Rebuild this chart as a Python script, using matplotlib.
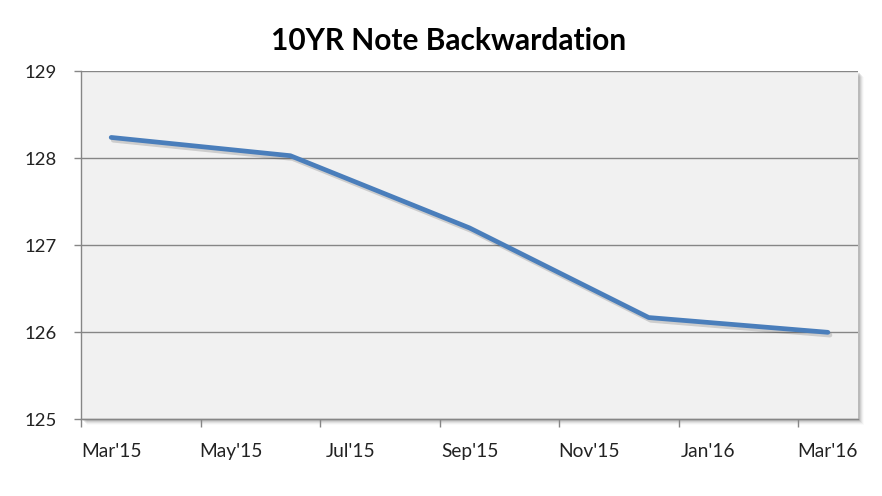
import matplotlib.pyplot as plt
import matplotlib.patheffects as pe
from matplotlib.patches import Rectangle
from matplotlib.ticker import FixedLocator, NullFormatter

plt.rcParams['font.family'] = ['Lato', 'DejaVu Sans']

# data: quarterly settle values, x = month index from Mar'15
months = ["Mar'15", "Apr'15", "May'15", "Jun'15", "Jul'15", "Aug'15", "Sep'15",
          "Oct'15", "Nov'15", "Dec'15", "Jan'16", "Feb'16", "Mar'16"]
point_months = ["Mar'15", "Jun'15", "Sep'15", "Dec'15", "Mar'16"]
prices = [128.24, 128.03, 127.20, 126.17, 126.00]
label_months = ["Mar'15", "May'15", "Jul'15", "Sep'15", "Nov'15", "Jan'16", "Mar'16"]

x = [months.index(m) for m in point_months]
label_pos = [months.index(m) for m in label_months]

fig = plt.figure(figsize=(8.82, 4.96), dpi=100)
ax = fig.add_axes([0.0922, 0.1546, 0.8803, 0.7016])

# soft shadow behind the plot area
for i, a in enumerate([0.10, 0.08, 0.06, 0.04, 0.02]):
    off = (2 + i) / 882
    offy = (2 + i) / 496
    fig.patches.append(Rectangle((0.0922 + off, 0.1546 - offy), 0.8803, 0.7016,
                                 transform=fig.transFigure, facecolor='black',
                                 alpha=a, edgecolor='none', zorder=0))

ax.set_facecolor('#F1F1F1')
ax.set_zorder(1)

ax.plot(x, prices, color='#4A7EBB', lw=3.4, solid_capstyle='round', solid_joinstyle='round',
        zorder=3,
        path_effects=[pe.SimpleLineShadow(offset=(1.5, -2), shadow_color='black', alpha=0.15),
                      pe.Normal()])

ax.set_xlim(-0.5, len(months) - 0.5)
ax.set_ylim(125, 129)
ax.set_yticks([125, 126, 127, 128, 129])
ax.grid(axis='y', color='#868686', lw=1.0)
ax.set_axisbelow(True)

# tick marks between label slots, labels centered on months
ax.xaxis.set_major_locator(FixedLocator([p - 0.5 for p in label_pos]))
ax.xaxis.set_major_formatter(NullFormatter())
ax.xaxis.set_minor_locator(FixedLocator(label_pos))
ax.set_xticklabels(label_months, minor=True)
ax.tick_params(axis='x', which='major', direction='out', length=6, color='#868686', width=1)
ax.tick_params(axis='x', which='minor', length=0, pad=17, labelsize=13.8, labelcolor='#222222')
ax.tick_params(axis='y', direction='out', length=5, color='#868686', width=1, pad=13,
               labelsize=13.3, labelcolor='#222222')

for s in ['top', 'right']:
    ax.spines[s].set_visible(False)
for s in ['left', 'bottom']:
    ax.spines[s].set_color('#868686')
    ax.spines[s].set_linewidth(1.0)

fig.text(0.509, 0.917, "10YR Note Backwardation", ha='center', va='center',
         fontsize=21.5, fontweight='bold', color='black')

plt.savefig("out.png", dpi=100)
plt.close()
